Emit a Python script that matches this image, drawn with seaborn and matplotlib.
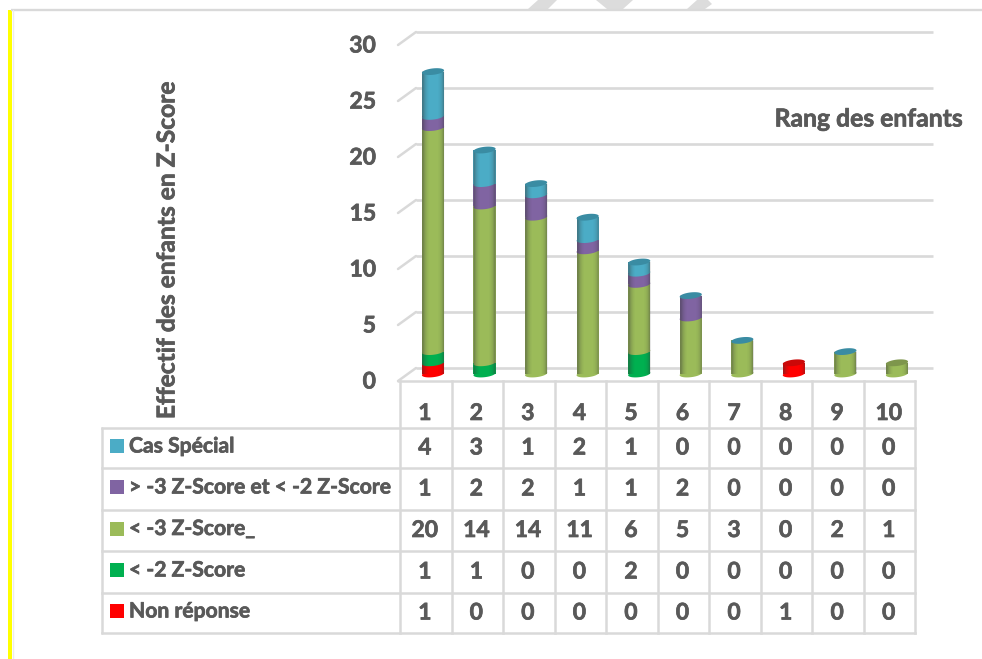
# Effectif des enfants par rang, colonnes empilees avec table de donnees
import numpy as np
import pandas as pd
import matplotlib
matplotlib.use("Agg")
import matplotlib.pyplot as plt
import matplotlib.patheffects as pe
from matplotlib.patches import Polygon
import seaborn as sns

rangs = ["1", "2", "3", "4", "5", "6", "7", "8", "9", "10"]
non_reponse = [1, 0, 0, 0, 0, 0, 0, 1, 0, 0]
moins_2 = [1, 1, 0, 0, 2, 0, 0, 0, 0, 0]
moins_3 = [20, 14, 14, 11, 6, 5, 3, 0, 2, 1]
entre_3_2 = [1, 2, 2, 1, 1, 2, 0, 0, 0, 0]
cas_special = [4, 3, 1, 2, 1, 0, 0, 0, 0, 0]
noms = ["Non réponse", "< -2 Z-Score", "< -3 Z-Score_",
        "> -3 Z-Score et < -2 Z-Score", "Cas Spécial"]
couleurs = ["#ff0000", "#00b050", "#9bbb59", "#8064a2", "#4bacc6"]
graduations = [0, 5, 10, 15, 20, 25, 30]

W, H = 982, 659
GRIS = "#d9d9d9"
TEXTE = "#595959"
PX_UNITE = 11.2   # pixels par enfant
PX_COL = 51.55    # largeur d'une colonne de la table

sns.set_theme(style="white")
plt.rcParams["font.family"] = ["Lato", "DejaVu Sans"]
plt.rcParams["font.weight"] = "bold"

fig = plt.figure(figsize=(W / 100, H / 100), dpi=100, facecolor="white")

# calque de fond en pixels : cadre, table, textes
fond = fig.add_axes([0, 0, 1, 1], zorder=0)
fond.set_xlim(0, W)
fond.set_ylim(H, 0)
fond.axis("off")


def texte(x, y, s, taille, **kw):
    # trait fin autour des lettres : le texte d'origine est plus gras que Lato Bold
    fond.text(x, y, s, color=TEXTE, fontsize=taille, va="center",
              path_effects=[pe.withStroke(linewidth=0.5, foreground=TEXTE)], **kw)


fond.plot([11, W], [9.5, 9.5], color=GRIS, lw=1.7, solid_capstyle="butt")
fond.plot([13.5, 13.5], [10, H], color="#ececec", lw=1)
fond.fill_between([8, 12], 10, H, color="#ffff00", lw=0)

# motifs gris coupes en haut de la page
for forme in [[(538, 0), (557, 0), (548, 9), (528, 9)],
              [(596, 0), (633, 0), (623, 9), (607, 9)],
              [(697, 0), (708, 0), (712, 4), (705, 9), (687, 9)]]:
    fond.add_patch(Polygon(forme, closed=True, fc="#dcdcdc", ec="none"))

# table de donnees
lignes_y = [428, 468, 510, 551, 593, 633]
colonnes_x = [400 + i * PX_COL for i in range(len(rangs) + 1)]
for y in lignes_y:
    fond.plot([102, colonnes_x[-1]], [y, y], color=GRIS, lw=1.8, solid_capstyle="projecting")
fond.plot([102, 102], [lignes_y[0], lignes_y[-1]], color=GRIS, lw=1.8)
for x in colonnes_x:
    fond.plot([x, x], [381, lignes_y[-1]], color=GRIS, lw=1.8, solid_capstyle="projecting")

series = [non_reponse, moins_2, moins_3, entre_3_2, cas_special]
for i, rang in enumerate(rangs):
    cx = (colonnes_x[i] + colonnes_x[i + 1]) / 2 - 1
    texte(cx, 413.5, rang, 16.5, ha="center")
for ligne, s in enumerate(reversed(range(len(series)))):
    y = (lignes_y[ligne] + lignes_y[ligne + 1]) / 2
    fond.add_patch(plt.Rectangle((110, y - 9), 14, 14, fc=couleurs[s], ec="none"))
    texte(129, y - 1.5, noms[s], 15.2, ha="left")
    for i, v in enumerate(series[s]):
        cx = (colonnes_x[i] + colonnes_x[i + 1]) / 2 - 1
        texte(cx, y, str(v), 16.5, ha="center")

# graduations : devant a gauche, fond du graphique a droite
for v in graduations:
    yf = 381 - v * PX_UNITE
    fond.plot([398, 416], [yf, yf - 13], color=GRIS, lw=1.8, solid_capstyle="round")
    fond.plot([416, 933], [yf - 13, yf - 13], color=GRIS, lw=1.9, solid_capstyle="butt")
    texte(376, yf + 1, str(v), 16.5, ha="right")
fond.plot([398, colonnes_x[-1]], [381, 381], color=GRIS, lw=1.8)

texte(167, 250, "Effectif des enfants en Z-Score", 17.7, rotation=90, ha="center")
texte(963, 119, "Rang des enfants", 17.8, ha="right")

# colonnes : base du graphique a y=374 px, premiere colonne centree a x=433 px
gauche, droite, bas, haut = 416, 933, 374, 20
ax = fig.add_axes([gauche / W, 1 - bas / H, (droite - gauche) / W, (bas - haut) / H], zorder=1)
ax.patch.set_alpha(0)

df = pd.DataFrame({"rang": rangs})
cumul = np.zeros(len(rangs))
for s, valeurs in enumerate(series):
    df["v"] = valeurs
    sns.barplot(data=df, x="rang", y="v", bottom=cumul, color=couleurs[s], saturation=1,
                width=0.43, ax=ax, zorder=3 + s, linewidth=0, errorbar=None)
    cumul = cumul + np.array(valeurs)

ax.set_xlim((gauche - 433) / PX_COL, (droite - 433) / PX_COL)
ax.set_ylim(0, (bas - haut) / PX_UNITE)
ax.axis("off")

t = np.linspace(0, 2 * np.pi, 60)
demi_l = 0.43 / 2
demi_h = 3.2 / PX_UNITE
pente = 1.2 / PX_UNITE


def ellipse(cx, y0):
    return cx + demi_l * np.cos(t), y0 + demi_h * np.sin(t) + pente * np.cos(t)


# jonctions arrondies : le bas de chaque segment recouvre le segment du dessous
for i in range(len(rangs)):
    y0 = 0
    for s, valeurs in enumerate(series):
        if valeurs[i] > 0:
            ex, ey = ellipse(i, y0)
            ax.fill(ex, ey, color=couleurs[s], lw=0, zorder=3 + s, clip_on=False)
            y0 += valeurs[i]

# ombrage horizontal du cylindre, surtout sur les bords
profil = np.array([0.42, 0.2, 0.07, 0, 0, 0, 0, 0, 0.05, 0.16, 0.4])
ombre = np.zeros((1, len(profil), 4))
ombre[0, :, 0:3] = 0.2
ombre[0, :, 3] = profil
for i, total in enumerate(cumul):
    ex, ey = ellipse(i, 0)
    contour = list(zip(ex[30:], ey[30:])) + [(i + demi_l, total), (i - demi_l, total)]
    clip = Polygon(contour, closed=True, transform=ax.transData, fc="none", ec="none", clip_on=False)
    ax.add_patch(clip)
    im = ax.imshow(ombre, extent=[i - demi_l, i + demi_l, -0.5, total + 0.5], aspect="auto",
                   interpolation="bilinear", zorder=20)
    im.set_clip_path(clip)
    im.set_clip_box(None)
    # dessus du cylindre
    ex, ey = ellipse(i, total)
    if total == 1:
        s = [k for k, v in enumerate(series) if v[i] > 0][-1]
        ax.fill(ex, ey, color=sns.dark_palette(couleurs[s], 5)[3], lw=0, zorder=21)
    else:
        ax.fill(ex, ey, color="#3a8ca3", lw=0, zorder=21)

ax.set_xlim((gauche - 433) / PX_COL, (droite - 433) / PX_COL)
ax.set_ylim(0, (bas - haut) / PX_UNITE)

fig.savefig("out.png", dpi=100)
